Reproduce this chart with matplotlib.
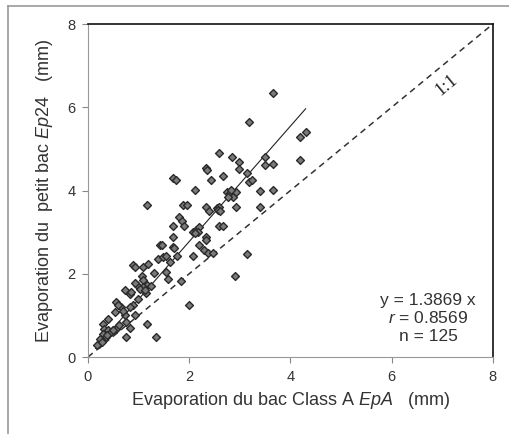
import numpy as np
import matplotlib.pyplot as plt
from matplotlib.lines import Line2D

plt.rcParams['font.family'] = ['Liberation Sans', 'DejaVu Sans']
plt.rcParams['mathtext.fontset'] = 'custom'
plt.rcParams['mathtext.rm'] = 'Liberation Sans'
plt.rcParams['mathtext.it'] = 'Liberation Sans:italic'

# Class A pan (x) vs small pan (y) evaporation, mm
epa = [3.65, 3.18, 4.31, 4.18, 4.18, 3.66, 3.49, 3.49, 2.59, 2.84,
       2.99, 2.99, 2.33, 2.35, 2.67, 2.43, 1.67, 1.73, 3.15, 3.19,
       3.25, 3.40, 3.65, 2.11, 1.17, 1.87, 1.95, 3.40, 2.92, 2.33,
       2.39, 2.54, 2.59, 2.57, 2.74, 2.80, 2.87, 2.77, 2.92, 2.83,
       1.80, 1.85, 1.68, 1.89, 2.59, 2.67, 2.07, 2.14, 2.20, 2.18,
       2.11, 1.68, 2.33, 2.33, 1.42, 1.47, 1.68, 1.70, 2.29, 2.37,
       2.47, 3.15, 1.39, 1.48, 1.55, 1.62, 1.76, 2.07, 1.31, 1.59,
       1.83, 2.90, 0.89, 0.92, 1.08, 1.19, 1.06, 1.09, 0.96, 0.92,
       1.17, 1.08, 1.02, 0.73, 0.83, 0.85, 1.14, 1.12, 0.88, 0.83,
       0.66, 0.56, 0.59, 0.53, 0.73, 0.92, 0.75, 0.83, 0.75, 1.17,
       1.34, 2.00, 0.40, 0.30, 0.32, 0.40, 0.49, 0.55, 0.30, 0.35,
       0.26, 0.22, 0.18, 0.23, 0.45, 0.62, 0.70, 0.98, 1.25, 1.55,
       2.20, 2.60, 0.28, 0.38, 0.50]
ep24 = [6.34, 5.64, 5.41, 5.29, 4.73, 4.63, 4.61, 4.81, 4.89, 4.81,
        4.69, 4.51, 4.53, 4.50, 4.35, 4.25, 4.29, 4.25, 4.41, 4.21,
        4.25, 3.98, 4.01, 4.02, 3.65, 3.66, 3.65, 3.61, 3.61, 3.61,
        3.51, 3.57, 3.61, 3.53, 3.97, 3.93, 3.85, 3.85, 3.97, 4.02,
        3.37, 3.27, 3.14, 3.14, 3.14, 3.14, 3.01, 3.05, 3.13, 3.01,
        2.97, 2.89, 2.89, 2.81, 2.69, 2.69, 2.65, 2.61, 2.57, 2.49,
        2.49, 2.47, 2.36, 2.40, 2.42, 2.28, 2.42, 2.42, 2.02, 1.88,
        1.82, 1.94, 2.20, 2.16, 2.16, 2.24, 1.94, 1.84, 1.72, 1.78,
        1.72, 1.68, 1.64, 1.60, 1.52, 1.56, 1.54, 1.60, 1.24, 1.20,
        1.20, 1.32, 1.24, 1.08, 1.00, 1.00, 0.84, 0.70, 0.48, 0.80,
        0.48, 1.24, 0.92, 0.80, 0.68, 0.64, 0.64, 0.68, 0.56, 0.48,
        0.40, 0.32, 0.28, 0.44, 0.60, 0.78, 1.10, 1.40, 1.70, 2.05,
        2.70, 3.50, 0.36, 0.52, 0.66]

slope = 1.3869
r_val = 0.8569
n_obs = 125

fig = plt.figure(figsize=(5.1, 4.34), dpi=100)
ax = fig.add_axes([0.1725, 0.1774, 0.794, 0.7673])

# outer frame (top and left only, as in the source)
fig.add_artist(Line2D([8 / 510, 8 / 510], [0, 1 - 6 / 434], color='#999999', lw=1.2))
fig.add_artist(Line2D([8 / 510, 1], [1 - 6 / 434, 1 - 6 / 434], color='#999999', lw=1.2))

ax.plot([0, 8], [0, 8], ls=(0, (4, 3)), color='#333333', lw=1.1)
xfit = np.array([0.15, 4.3])
ax.plot(xfit, slope * xfit, color='#222222', lw=0.8)

ax.scatter(epa, ep24, marker='D', s=16, facecolor='#7a7a7a',
           edgecolor='#2a2a2a', linewidths=1.0, zorder=3)

ax.text(7.09, 6.54, '1:1', rotation=45, transform_rotates_text=True,
        rotation_mode='anchor', ha='center', va='center',
        fontsize=13, family='Liberation Serif', color='#222222')

ax.text(6.72, 0.93, f'y = {slope:.4f} x\n$r$ = {r_val:.4f}\nn = {n_obs}',
        ha='center', va='center', fontsize=12.5, color='#333333',
        linespacing=1.2)

ax.set_xlim(0, 8)
ax.set_ylim(0, 8)
ax.set_xticks([0, 2, 4, 6, 8])
ax.set_yticks([0, 2, 4, 6, 8])
ax.tick_params(direction='out', length=4, width=0.8, colors='#888888',
               labelcolor='#333333', labelsize=10.5, pad=5)

for side in ['left', 'bottom']:
    ax.spines[side].set_color('#999999')
for side in ['top', 'right']:
    ax.spines[side].set_color('#111111')
    ax.spines[side].set_linewidth(1.2)

ax.set_xlabel('Evaporation du bac Class A $\\it{EpA}$   (mm)', fontsize=13,
              color='#333333', labelpad=5)
ax.set_ylabel('Evaporation du  petit bac $\\it{Ep24}$   (mm)', fontsize=13,
              color='#333333', labelpad=9)

fig.savefig('out.png', dpi=100, facecolor='white')
